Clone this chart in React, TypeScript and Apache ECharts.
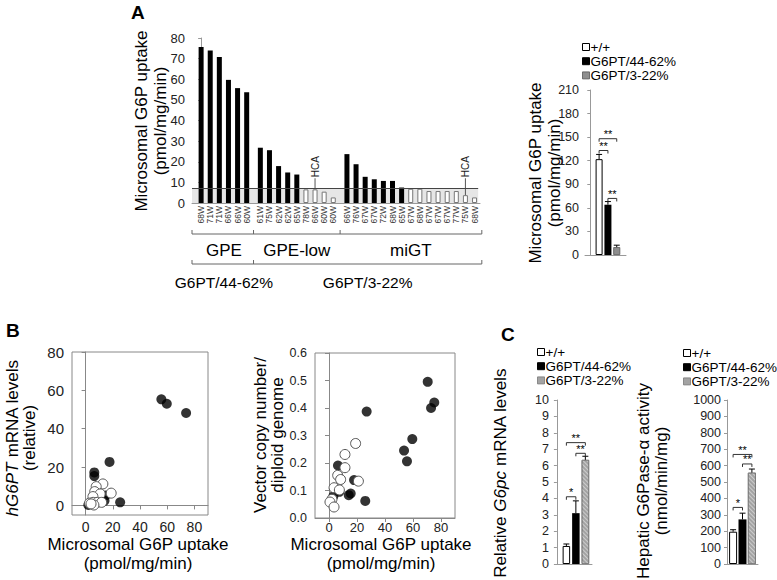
import React, { useEffect, useRef } from "react";
import * as echarts from "echarts";

const FONT = '"Liberation Sans", Arial, Helvetica, sans-serif';

// ---------------- Panel A (left): per-mouse microsomal G6P uptake ----------------
const gpeAges = ["68W", "71W", "71W", "66W", "66W", "60W"];
const gpeUptake = [75.6, 73.9, 70.8, 59.7, 55.7, 53.7];
const gpeTransgene = [1, 1, 1, 1, 1, 1];
const gpeLowAges = ["61W", "75W", "62W", "62W", "65W", "78W", "66W", "60W", "60W"];
const gpeLowUptake = [26.8, 25.6, 17.9, 14.8, 13.8, 6.6, 6.6, 5.5, 2.7];
const gpeLowTransgene = [1, 1, 1, 1, 1, 0, 0, 0, 0];
const migtAges = ["66W", "76W", "67W", "67W", "72W", "68W", "65W", "67W", "68W", "67W", "67W", "67W", "77W", "75W", "68W"];
const migtUptake = [23.7, 18.8, 12.7, 11.5, 10.7, 10.7, 7.5, 6.9, 6.9, 5.8, 5.8, 5.8, 5.8, 3.8, 2.7];
const migtTransgene = [1, 1, 1, 1, 1, 1, 1, 0, 0, 0, 0, 0, 0, 0, 0];
const hcaMarks: [number, number][] = [[1, 6], [2, 13]]; // [group, index in group]
const aGroupNames = ["GPE", "GPE-low", "miGT"];
const aCohortNames = ["G6PT/44-62%", "G6PT/3-22%"];
const normalRangeTop = 7;

// ---------------- Group bar panels ----------------
const groupNames = ["+/+", "G6PT/44-62%", "G6PT/3-22%"];
const aRightMeans = [122, 64, 10];
const aRightErrors = [6, 4, 2.5];
const aRightSigPairs: [number, number][] = [[1, 3], [1, 2], [2, 3]];
const aRightSigLevels = [148, 133, 72];
const aRightSigMarks = ["**", "**", "**"];

const cG6pcMeans = [1.1, 3.1, 6.35];
const cG6pcErrors = [0.12, 0.75, 0.22];
const cG6pcSigPairs: [number, number][] = [[1, 2], [1, 3], [2, 3]];
const cG6pcSigLevels = [4.1, 7.4, 6.75];
const cG6pcSigMarks = ["*", "**", "**"];

const cActMeans = [197, 272, 557];
const cActErrors = [12, 38, 22];
const cActSigPairs: [number, number][] = [[1, 2], [1, 3], [2, 3]];
const cActSigLevels = [345, 668, 610];
const cActSigMarks = ["*", "**", "**"];

// ---------------- Panel B scatter ----------------
const bMrnaFilledUptake = [55.7, 59.7, 73.9, 17.6, 6.4, 6.4, 14.7, 13.9, 25.4, 2.0];
const bMrnaFilledLevel = [55.3, 53.0, 48.2, 22.7, 17.2, 15.3, 5.2, 2.4, 1.6, 0.2];
const bMrnaOpenUptake = [12.7, 7.8, 6.7, 10.7, 18.8, 5.4, 2.9, 5.6, 8.6, 11.8, 6.1, 4.0];
const bMrnaOpenLevel = [11.2, 9.8, 7.2, 6.0, 6.4, 4.6, 1.2, 1.6, 1.6, 1.6, 0.2, 0.8];

const bCopyFilledUptake = [70.5, 75.2, 72.9, 59.5, 53.6, 55.7, 26.9, 6.4, 17.9, 14.1, 15.5, 25.9, 3.1, 7.4];
const bCopyFilledNumber = [0.495, 0.42, 0.4, 0.287, 0.245, 0.206, 0.387, 0.191, 0.138, 0.083, 0.089, 0.062, 0.079, 0.095];
const bCopyOpenUptake = [19.0, 11.4, 11.4, 6.2, 8.3, 21.0, 3.6, 7.4, 2.1, 0.7, 3.6];
const bCopyOpenNumber = [0.271, 0.231, 0.183, 0.155, 0.14, 0.134, 0.11, 0.102, 0.068, 0.058, 0.04];
const bTicks = [0, 20, 40, 60, 80];

// ---------------- layout ----------------
const A_GRID = { left: 192, top: 38, width: 288, height: 165 };
const A_XMIN = -1;
const A_XMAX = 30.6;
const aPx = (v: number) => A_GRID.left + ((v - A_XMIN) / (A_XMAX - A_XMIN)) * A_GRID.width;

type ABar = { pos: number; age: string; value: number; tg: boolean; group: number };
const aGroups = [
  { ages: gpeAges, uptake: gpeUptake, tg: gpeTransgene },
  { ages: gpeLowAges, uptake: gpeLowUptake, tg: gpeLowTransgene },
  { ages: migtAges, uptake: migtUptake, tg: migtTransgene },
];
const aBars: ABar[] = [];
const aSpans: [number, number][] = [];
{
  let k = 0;
  aGroups.forEach((g, gi) => {
    const start = k + 0.5 * gi;
    g.ages.forEach((age, j) => {
      aBars.push({ pos: k + 0.5 * gi, age, value: g.uptake[j], tg: g.tg[j] === 1, group: gi });
      k++;
    });
    aSpans.push([start, k - 1 + 0.5 * gi]);
  });
}
const hcaData = hcaMarks.map(([g, j]) => {
  const b = aBars.filter((x) => x.group === g)[j];
  return [b.pos, b.value, 12];
});

const axisGray = "#999";
const GRAY_SOLID = { color: "#8e8e8e", borderColor: "#555", borderWidth: 0.8 };
const GRAY_HATCH = {
  color: "#a3a3a3",
  borderColor: "#777",
  borderWidth: 0.8,
  decal: {
    symbol: "rect",
    symbolSize: 1,
    color: "rgba(255,255,255,0.45)",
    dashArrayX: [1, 0],
    dashArrayY: [1, 2],
    rotation: Math.PI / 4,
  },
};

function smallBars(idx: number, means: number[], errs: number[], hatch: boolean, width: number) {
  const styles = [{ color: "#fff", borderColor: "#000", borderWidth: 1 }, { color: "#000" }, hatch ? GRAY_HATCH : GRAY_SOLID];
  const series: any[] = groupNames.map((name, i) => ({
    type: "bar",
    name,
    xAxisIndex: idx,
    yAxisIndex: idx,
    barWidth: width,
    barGap: "-100%",
    data: [[i + 1, means[i]]],
    itemStyle: styles[i],
    z: 2,
  }));
  series.push({
    type: "custom",
    xAxisIndex: idx,
    yAxisIndex: idx,
    silent: true,
    z: 3,
    encode: { x: 0, y: 1 },
    data: means.map((m, i) => [i + 1, m, errs[i]]),
    renderItem: (_p: any, api: any) => {
      const x = api.value(0);
      const m = api.value(1);
      const e = api.value(2);
      const p0 = api.coord([x, m]);
      const p1 = api.coord([x, m + e]);
      return {
        type: "group",
        children: [
          { type: "line", shape: { x1: p0[0], y1: p0[1], x2: p1[0], y2: p1[1] }, style: { stroke: "#000", lineWidth: 1 } },
          { type: "line", shape: { x1: p1[0] - 3, y1: p1[1], x2: p1[0] + 3, y2: p1[1] }, style: { stroke: "#000", lineWidth: 1 } },
        ],
      };
    },
  });
  return series;
}

function sigSeries(idx: number, pairs: [number, number][], levels: number[], marks: string[]) {
  return {
    type: "custom",
    xAxisIndex: idx,
    yAxisIndex: idx,
    silent: true,
    z: 4,
    encode: { x: [0, 1], y: 2 },
    data: pairs.map((p, i) => [p[0], p[1], levels[i]]),
    renderItem: (params: any, api: any) => {
      const a = api.coord([api.value(0), api.value(2)]);
      const b = api.coord([api.value(1), api.value(2)]);
      return {
        type: "group",
        children: [
          {
            type: "polyline",
            shape: { points: [[a[0], a[1] + 3], [a[0], a[1]], [b[0], a[1]], [b[0], a[1] + 3]] },
            style: { stroke: "#333", fill: "none", lineWidth: 1 },
          },
          {
            type: "text",
            x: (a[0] + b[0]) / 2,
            y: a[1] - 1,
            style: {
              text: marks[params.dataIndex],
              fontSize: 11,
              lineHeight: 7,
              fontFamily: FONT,
              fill: "#000",
              align: "center",
              verticalAlign: "bottom",
            },
          },
        ],
      };
    },
  };
}

function valueAxis(gridIndex: number, extra: any) {
  return {
    gridIndex,
    type: "value",
    splitLine: { show: false },
    axisLine: { show: true, lineStyle: { color: axisGray, width: 1 } },
    axisTick: { show: true, length: 3, lineStyle: { color: axisGray } },
    axisLabel: { color: "#222", fontFamily: FONT, fontSize: 12.5, margin: 6, formatter: (v: number) => String(v) },
    ...extra,
  };
}

function vTitle(x: number, y: number, text: string, lh: number, rich?: any) {
  return {
    type: "text",
    x,
    y,
    rotation: Math.PI / 2,
    style: {
      text,
      fontSize: 17,
      fontFamily: FONT,
      fill: "#000",
      align: "center",
      verticalAlign: "middle",
      lineHeight: lh,
      rich,
    },
  };
}
function hTitle(x: number, y: number, text: string, size: number, lh = 19) {
  return {
    type: "text",
    x,
    y,
    style: { text, fontSize: size, fontFamily: FONT, fill: "#000", align: "center", verticalAlign: "middle", lineHeight: lh },
  };
}
function letter(x: number, y: number, text: string) {
  return { type: "text", x, y, style: { text, fontSize: 19, fontWeight: "bold", fontFamily: FONT, fill: "#000" } };
}
function legendBlock(x: number, y: number, hatch: boolean) {
  const fills = [
    { fill: "#fff", stroke: "#000", lineWidth: 1 },
    { fill: "#000", stroke: "#000", lineWidth: 1 },
    hatch ? { fill: "#a3a3a3", stroke: "#777", lineWidth: 0.8 } : { fill: "#8e8e8e", stroke: "#555", lineWidth: 0.8 },
  ];
  const out: any[] = [];
  groupNames.forEach((n, i) => {
    const cy = y + i * 14.2;
    out.push({ type: "rect", shape: { x: x + 0.5, y: cy - 3.5, width: 7, height: 7 }, style: fills[i] });
    out.push({
      type: "text",
      x: x + 8.5,
      y: cy,
      style: { text: n, fontSize: 13.5, fontFamily: FONT, fill: "#000", align: "left", verticalAlign: "middle" },
    });
  });
  return out;
}

function buildOption() {
  const b1 = (aSpans[0][1] + aSpans[1][0]) / 2;
  const b2 = (aSpans[1][1] + aSpans[2][0]) / 2;
  const bracketEnd = 30.8;
  const yUp = 234;
  const yLow = 264;
  const bracketStyle = { stroke: "#666", lineWidth: 1, fill: "none" };
  const tickUp = (v: number, y: number) => ({
    type: "line",
    shape: { x1: aPx(v), y1: y - 4, x2: aPx(v), y2: y },
    style: bracketStyle,
  });

  const graphic: any[] = [
    letter(131, 3, "A"),
    letter(6, 321, "B"),
    letter(501, 325, "C"),
    vTitle(150.5, 121, "Microsomal G6P uptake\n(pmol/mg/min)", 19),
    vTitle(545, 173, "Microsomal G6P uptake\n(pmol/mg/min)", 19),
    vTitle(21, 438, "{i|hG6PT} mRNA levels\n(relative)", 17.5, {
      i: { fontStyle: "italic", fontSize: 17, fontFamily: FONT, fill: "#000" },
    }),
    hTitle(138, 554, "Microsomal G6P uptake\n(pmol/mg/min)", 17),
    vTitle(268.5, 435, "Vector copy number/\ndiploid genome", 17),
    hTitle(381, 554, "Microsomal G6P uptake\n(pmol/mg/min)", 17),
    vTitle(500, 473, "Relative {i|G6pc} mRNA levels", 17, {
      i: { fontStyle: "italic", fontSize: 17, fontFamily: FONT, fill: "#000" },
    }),
    vTitle(652.5, 481, "Hepatic G6Pase-\u03b1 activity\n(nmol/min/mg)", 18),
    ...legendBlock(582, 47, false),
    ...legendBlock(537, 352, true),
    ...legendBlock(683, 353, true),
    // group brackets under panel A
    { type: "line", shape: { x1: aPx(A_XMIN), y1: yUp, x2: aPx(bracketEnd), y2: yUp }, style: bracketStyle },
    tickUp(A_XMIN, yUp),
    tickUp(b1, yUp),
    tickUp(b2, yUp),
    tickUp(bracketEnd, yUp),
    { type: "line", shape: { x1: aPx(A_XMIN), y1: yLow, x2: aPx(bracketEnd), y2: yLow }, style: bracketStyle },
    tickUp(A_XMIN, yLow),
    tickUp(b1, yLow),
    tickUp(bracketEnd, yLow),
    ...aGroupNames.map((n, i) => hTitle(aPx((aSpans[i][0] + aSpans[i][1]) / 2), 250, n, 17)),
    hTitle(aPx((aSpans[0][0] + aSpans[0][1]) / 2), 282, aCohortNames[0], 15.5),
    hTitle((aPx(b1) + aPx(bracketEnd)) / 2, 282, aCohortNames[1], 15.5),
  ];

  const bAxisLine = { show: true, lineStyle: { color: "#888" } };

  const option: any = {
    animation: false,
    backgroundColor: "#fff",
    textStyle: { fontFamily: FONT },
    grid: [
      { ...A_GRID },
      { left: 585, top: 90, width: 41, height: 165 },
      { left: 72, top: 352, width: 136, height: 163, show: true, borderColor: "#888", borderWidth: 1 },
      { left: 315, top: 353, width: 140, height: 165, show: true, borderColor: "#888", borderWidth: 1 },
      { left: 555, top: 400, width: 37, height: 164 },
      { left: 727, top: 400, width: 31, height: 164 },
    ],
    xAxis: [
      valueAxis(0, { min: A_XMIN, max: A_XMAX, axisTick: { show: false }, axisLabel: { show: false } }),
      valueAxis(1, { min: -0.6, max: 4.05, axisTick: { show: false }, axisLabel: { show: false } }),
      valueAxis(2, {
        min: -10,
        max: 90,
        axisLine: bAxisLine,
        axisTick: { show: true, length: 4, customValues: bTicks, lineStyle: { color: "#888" } },
        axisLabel: { customValues: bTicks, fontSize: 14, color: "#222", fontFamily: FONT, margin: 5 },
      }),
      valueAxis(3, {
        min: -10,
        max: 90,
        axisLine: bAxisLine,
        axisTick: { show: true, length: 4, customValues: bTicks, lineStyle: { color: "#888" } },
        axisLabel: { customValues: bTicks, fontSize: 13, color: "#222", fontFamily: FONT, margin: 3 },
      }),
      valueAxis(4, { min: -0.2, max: 3.7, axisTick: { show: false }, axisLabel: { show: false } }),
      valueAxis(5, { min: 0.35, max: 3.65, axisTick: { show: false }, axisLabel: { show: false } }),
    ],
    yAxis: [
      valueAxis(0, { min: 0, max: 80, interval: 10, axisLabel: { color: "#222", fontFamily: FONT, fontSize: 13, margin: 7 } }),
      valueAxis(1, { min: 0, max: 210, interval: 30 }),
      valueAxis(2, {
        min: -5,
        max: 80,
        axisLine: bAxisLine,
        axisTick: { show: true, length: 4, customValues: bTicks, lineStyle: { color: "#888" } },
        axisLabel: { customValues: bTicks, fontSize: 15, color: "#222", fontFamily: FONT, margin: 8 },
      }),
      valueAxis(3, {
        min: 0,
        max: 0.6,
        interval: 0.1,
        axisLine: bAxisLine,
        axisTick: { show: true, length: 4, lineStyle: { color: "#888" } },
        axisLabel: { fontSize: 12.5, color: "#222", fontFamily: FONT, margin: 8, formatter: (v: number) => v.toFixed(1) },
      }),
      valueAxis(4, { min: 0, max: 10, interval: 1 }),
      valueAxis(5, { min: 0, max: 1000, interval: 100 }),
    ],
    series: [
      {
        type: "bar",
        name: "uptake per mouse",
        xAxisIndex: 0,
        yAxisIndex: 0,
        barWidth: 5,
        data: aBars.map((b) => ({
          name: b.age,
          value: [b.pos, b.value],
          itemStyle: b.tg ? { color: "#000" } : { color: "#fff", borderColor: "#777", borderWidth: 1 },
        })),
        label: {
          show: true,
          position: "bottom",
          distance: 3,
          rotate: 90,
          align: "right",
          verticalAlign: "middle",
          formatter: "{b}",
          fontSize: 8.5,
          fontFamily: FONT,
          color: "#333",
        },
        markArea: {
          silent: true,
          itemStyle: { color: "#e6e6e6" },
          data: [[{ coord: [A_XMIN, 0] }, { coord: [30.4, normalRangeTop] }]],
        },
        markLine: {
          silent: true,
          symbol: "none",
          label: { show: false },
          lineStyle: { color: "#444", width: 1, type: "solid" },
          data: [[{ coord: [A_XMIN, normalRangeTop] }, { coord: [30.4, normalRangeTop] }]],
        },
        z: 2,
      },
      {
        type: "custom",
        name: "HCA",
        xAxisIndex: 0,
        yAxisIndex: 0,
        silent: true,
        z: 3,
        encode: { x: 0, y: [1, 2] },
        data: hcaData,
        renderItem: (_p: any, api: any) => {
          const p0 = api.coord([api.value(0), api.value(1)]);
          const p1 = api.coord([api.value(0), api.value(2)]);
          return {
            type: "group",
            children: [
              { type: "line", shape: { x1: p0[0], y1: p0[1], x2: p1[0], y2: p1[1] }, style: { stroke: "#555", lineWidth: 1 } },
              {
                type: "text",
                x: p1[0],
                y: p1[1] - 1,
                rotation: Math.PI / 2,
                style: { text: "HCA", fontSize: 10, fontFamily: FONT, fill: "#222", align: "left", verticalAlign: "middle" },
              },
            ],
          };
        },
      },
      ...smallBars(1, aRightMeans, aRightErrors, false, 7),
      sigSeries(1, aRightSigPairs, aRightSigLevels, aRightSigMarks),
      {
        type: "scatter",
        name: "mRNA filled",
        xAxisIndex: 2,
        yAxisIndex: 2,
        symbolSize: 10,
        data: bMrnaFilledUptake.map((x, i) => [x, bMrnaFilledLevel[i]]),
        itemStyle: { color: "#000" },
      },
      {
        type: "scatter",
        name: "mRNA open",
        xAxisIndex: 2,
        yAxisIndex: 2,
        symbolSize: 10,
        data: bMrnaOpenUptake.map((x, i) => [x, bMrnaOpenLevel[i]]),
        itemStyle: { color: "#fff", borderColor: "#555", borderWidth: 1, opacity: 1 },
      },
      {
        type: "scatter",
        name: "copy filled",
        xAxisIndex: 3,
        yAxisIndex: 3,
        symbolSize: 10,
        data: bCopyFilledUptake.map((x, i) => [x, bCopyFilledNumber[i]]),
        itemStyle: { color: "#000" },
      },
      {
        type: "scatter",
        name: "copy open",
        xAxisIndex: 3,
        yAxisIndex: 3,
        symbolSize: 10,
        data: bCopyOpenUptake.map((x, i) => [x, bCopyOpenNumber[i]]),
        itemStyle: { color: "#fff", borderColor: "#555", borderWidth: 1, opacity: 1 },
      },
      ...smallBars(4, cG6pcMeans, cG6pcErrors, true, 7.5),
      sigSeries(4, cG6pcSigPairs, cG6pcSigLevels, cG6pcSigMarks),
      ...smallBars(5, cActMeans, cActErrors, true, 8),
      sigSeries(5, cActSigPairs, cActSigLevels, cActSigMarks),
    ],
    graphic,
  };
  return option;
}

export default function App() {
  const ref = useRef<HTMLDivElement>(null);
  useEffect(() => {
    if (!ref.current) return;
    const chart = echarts.init(ref.current, undefined, { renderer: "svg" });
    chart.setOption(buildOption());
    return () => chart.dispose();
  }, []);
  return <div ref={ref} style={{ position: "absolute", left: 0, top: 0, width: 777, height: 580 }} />;
}
